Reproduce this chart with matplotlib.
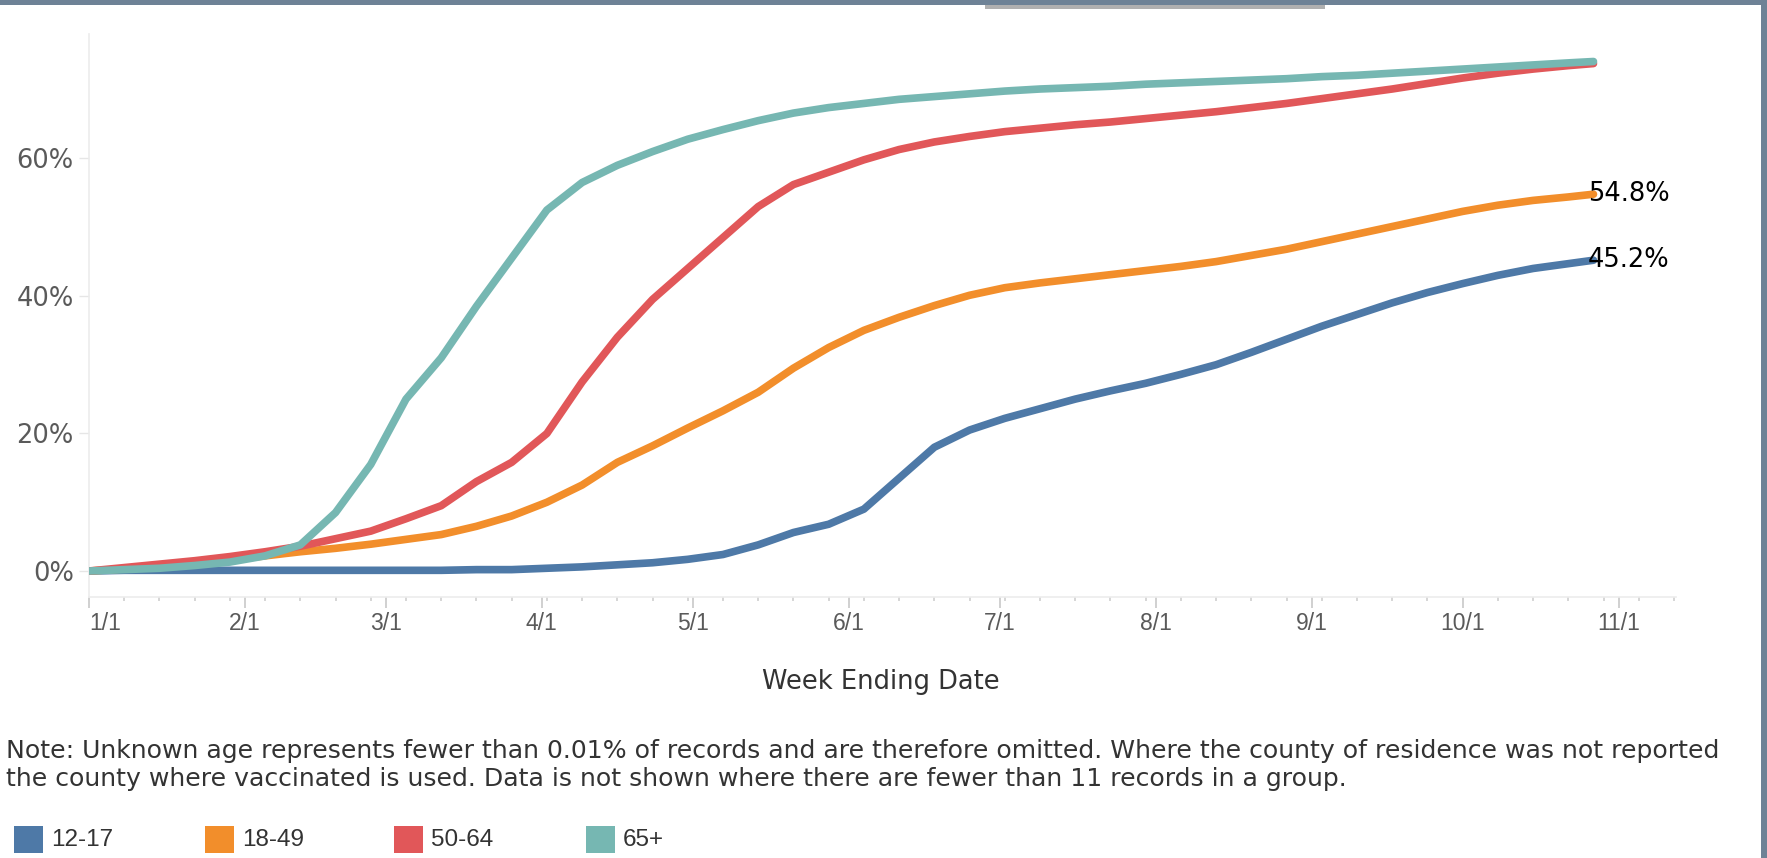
import matplotlib
matplotlib.use("Agg")
import matplotlib.pyplot as plt
from matplotlib.patches import Rectangle
from matplotlib.ticker import FuncFormatter
import pandas as pd

plt.rcParams['font.family'] = ['Liberation Sans', 'DejaVu Sans']
WIDE = ['DejaVu Sans']

# ---------------- data ----------------
week_ending = list(pd.date_range('2021-01-01', '2021-10-22', freq='7D')) + [pd.Timestamp('2021-10-27')]

age_12_17 = [0, 0.1, 0.1, 0.1, 0.1, 0.1, 0.1, 0.1, 0.1, 0.1, 0.1, 0.2, 0.2,
             0.4, 0.6, 0.9, 1.2, 1.7, 2.4, 3.8, 5.6, 6.8, 9.0, 13.5, 18.0,
             20.5, 22.2, 23.6, 25.0, 26.2, 27.3, 28.6, 30.0, 31.8, 33.7,
             35.6, 37.3, 39.0, 40.5, 41.8, 43.0, 44.0, 44.7, 45.2]
age_18_49 = [0, 0.3, 0.7, 1.1, 1.6, 2.2, 2.8, 3.3, 3.9, 4.6, 5.3, 6.5, 8.0,
             10.0, 12.5, 15.8, 18.2, 20.8, 23.3, 26.0, 29.5, 32.5, 35.0,
             36.9, 38.6, 40.1, 41.2, 41.9, 42.5, 43.1, 43.7, 44.3, 45.0,
             45.9, 46.8, 47.9, 49.0, 50.1, 51.2, 52.3, 53.2, 53.9, 54.4, 54.8]
age_50_64 = [0, 0.5, 1.0, 1.5, 2.1, 2.8, 3.6, 4.7, 5.8, 7.6, 9.5, 13.0, 15.8,
             20.0, 27.5, 34.0, 39.5, 44.0, 48.5, 53.0, 56.2, 58.0, 59.8,
             61.3, 62.4, 63.2, 63.9, 64.4, 64.9, 65.3, 65.8, 66.3, 66.8,
             67.4, 68.0, 68.7, 69.4, 70.1, 70.9, 71.7, 72.4, 73.0, 73.5, 73.8]
age_65_plus = [0, 0.2, 0.4, 0.8, 1.3, 2.2, 3.8, 8.5, 15.5, 25.0, 31.0, 38.5,
               45.5, 52.5, 56.5, 59.0, 61.0, 62.8, 64.2, 65.5, 66.6, 67.4,
               68.0, 68.6, 69.0, 69.4, 69.8, 70.1, 70.3, 70.5, 70.8, 71.0,
               71.2, 71.4, 71.6, 71.9, 72.1, 72.4, 72.7, 73.0, 73.3, 73.6,
               73.9, 74.1]

series_names = ['12-17', '18-49', '50-64', '65+']
series_values = [age_12_17, age_18_49, age_50_64, age_65_plus]
series_colors = ['#4e79a7', '#f28e2b', '#e15759', '#76b7b2']
labelled = ['12-17', '18-49']

tick_dates = pd.date_range('2021-01-01', '2021-11-01', freq='MS')
tick_labels = ['1/1', '2/1', '3/1', '4/1', '5/1', '6/1', '7/1', '8/1',
               '9/1', '10/1', '11/1']
y_ticks = [0, 20, 40, 60]

note = ("Note: Unknown age represents fewer than 0.01% of records and are therefore omitted. "
        "Where the county of residence was not reported\n"
        "the county where vaccinated is used. Data is not shown where there are fewer than 11 "
        "records in a group.")

# ---------------- figure ----------------
W, H = 1767, 858
fig = plt.figure(figsize=(W / 100, H / 100), dpi=100)
fig.patch.set_facecolor('white')

ax = fig.add_axes([89 / W, 1 - 597 / H, (1676 - 89) / W, (597 - 34) / H])

for name, vals, col in zip(series_names, series_values, series_colors):
    ax.plot(week_ending, vals, color=col, lw=5.5, solid_capstyle='round',
            solid_joinstyle='round', zorder=3)
    if name in labelled:
        ax.annotate(f"{vals[-1]:.1f}%", (week_ending[-1], vals[-1]),
                    xytext=(-4, 0), textcoords='offset points',
                    ha='left', va='center', fontsize=18.5, color='black',
                    family=WIDE, zorder=5)

ax.set_xlim(pd.Timestamp('2021-01-01'), pd.Timestamp('2021-01-01') + pd.Timedelta(days=315.4))
ax.set_ylim(-3.78, 78.1)

ax.set_xticks(tick_dates)
ax.set_xticklabels(tick_labels)
minor = pd.date_range('2021-01-01', '2021-11-12', freq='7D')
ax.set_xticks(minor, minor=True)
ax.tick_params(axis='x', which='major', length=8, width=1.2, color='#c8c8c8',
               labelsize=16.5, labelcolor='#5a5a5a', pad=3)
ax.tick_params(axis='x', which='minor', length=3, width=1.2, color='#d0d0d0')
ax.get_xticklabels()[0].set_horizontalalignment('left')

ax.set_yticks(y_ticks)
ax.yaxis.set_major_formatter(FuncFormatter(lambda v, p: f"{v:.0f}%"))
ax.tick_params(axis='y', which='major', length=7, width=1, color='#e6e6e6',
               labelsize=18.5, labelcolor='#5a5a5a', pad=4)
for t in ax.get_yticklabels():
    t.set_family(WIDE)

for s in ['top', 'right']:
    ax.spines[s].set_visible(False)
for s in ['left', 'bottom']:
    ax.spines[s].set_color('#ececec')
    ax.spines[s].set_linewidth(1.2)

ax.set_xlabel('Week Ending Date', fontsize=18.5, color='#333333', family=WIDE)
ax.xaxis.label.set_va('center')
ax.xaxis.set_label_coords(0.499, (597 - 682) / (597 - 34))

# note text
fig.text(6 / W, 1 - 765 / H, note, ha='left', va='center', fontsize=18.1,
         color='#333333', linespacing=1.22, family=WIDE)

# legend
legend_sq_x = [14, 205, 394, 586]
for x0, name, col in zip(legend_sq_x, series_names, series_colors):
    fig.patches.append(Rectangle((x0 / W, 1 - 853 / H), 29 / W, 27 / H,
                                 transform=fig.transFigure, facecolor=col,
                                 edgecolor='none'))
    fig.text((x0 + 37) / W, 1 - 840 / H, name, ha='left', va='center',
             fontsize=17.5, color='#333333')

# frame decorations (screenshot borders)
fig.patches.append(Rectangle((0, 1 - 5 / H), 1, 5 / H, transform=fig.transFigure,
                             facecolor='#6e8296', edgecolor='none'))
fig.patches.append(Rectangle((1761 / W, 0), 6 / W, 1, transform=fig.transFigure,
                             facecolor='#6e8296', edgecolor='none'))
fig.patches.append(Rectangle((985 / W, 1 - 9 / H), 340 / W, 4 / H,
                             transform=fig.transFigure, facecolor='#b0b0b0',
                             edgecolor='none'))

fig.savefig('out.png', dpi=100, facecolor='white')
